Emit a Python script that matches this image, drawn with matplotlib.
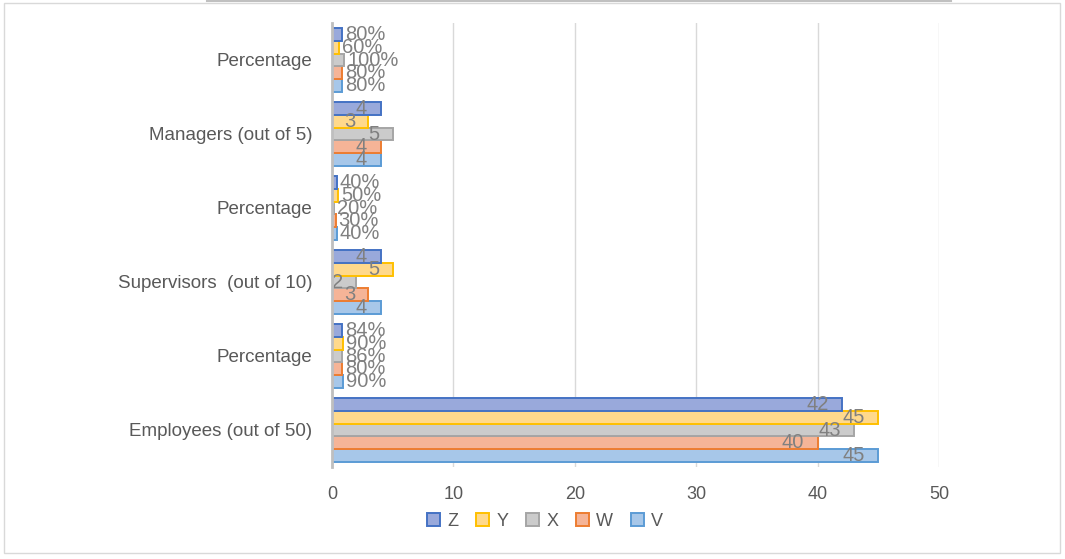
import numpy as np
import matplotlib
matplotlib.use('Agg')
from matplotlib import pyplot as plt
from matplotlib.patches import Rectangle
from matplotlib.lines import Line2D

# categories, bottom to top
categories = ['Employees (out of 50)', 'Percentage', 'Supervisors  (out of 10)',
              'Percentage', 'Managers (out of 5)', 'Percentage']
series = ['V', 'W', 'X', 'Y', 'Z']
values = {
    'V': [45, 0.90, 4, 0.40, 4, 0.80],
    'W': [40, 0.80, 3, 0.30, 4, 0.80],
    'X': [43, 0.86, 2, 0.20, 5, 1.00],
    'Y': [45, 0.90, 5, 0.50, 3, 0.60],
    'Z': [42, 0.84, 4, 0.40, 4, 0.80],
}
is_pct = [False, True, False, True, False, True]
xticks = [0, 10, 20, 30, 40, 50]

fills = {'V': '#a7c7e9', 'W': '#f5b497', 'X': '#cbcbcb', 'Y': '#ffd98c', 'Z': '#99a9db'}
edges = {'V': '#5b9bd5', 'W': '#ed7d31', 'X': '#a5a5a5', 'Y': '#ffc000', 'Z': '#4472c4'}

plt.rcParams['font.family'] = ['Liberation Sans', 'DejaVu Sans']

fig = plt.figure(figsize=(10.65, 5.59), dpi=100)
ax = fig.add_axes([332 / 1065, 1 - 467 / 559, (939 - 332) / 1065, (467 - 23) / 559])

y = np.arange(len(categories))
h = 0.173
for i, s in enumerate(series):
    off = (i - 2) * h
    ax.barh(y + off, values[s], height=h, color=fills[s], edgecolor=edges[s],
            linewidth=1.4, zorder=3)
    for j, v in enumerate(values[s]):
        if is_pct[j]:
            ax.text(v + 0.25, y[j] + off, '{:.0f}%'.format(v * 100), va='center',
                    ha='left', fontsize=14.5, color='#808080', zorder=4)
        else:
            ax.text(v - 1.1, y[j] + off, str(v), va='center', ha='right',
                    fontsize=14.5, color='#808080', zorder=4)

ax.set_xlim(0, 50)
ax.set_ylim(-0.5, len(categories) - 0.5)
ax.set_xticks(xticks)
ax.set_yticks(y)
ax.set_yticklabels(categories)
ax.tick_params(axis='y', length=0, colors='#595959', labelsize=13.5, pad=14)
ax.tick_params(axis='x', length=0, colors='#595959', labelsize=13, pad=14)
ax.grid(axis='x', color='#d9d9d9', linewidth=1, zorder=0)
for sp in ['top', 'right', 'bottom']:
    ax.spines[sp].set_visible(False)
ax.spines['left'].set_color('#bfbfbf')
ax.spines['left'].set_linewidth(2)
ax.spines['left'].set_zorder(5)

handles = [Rectangle((0, 0), 1, 1, facecolor=fills[s], edgecolor=edges[s], linewidth=1.4)
           for s in series[::-1]]
leg = fig.legend(handles, series[::-1], loc='center', bbox_to_anchor=(545 / 1065, 1 - 521 / 559),
                 ncol=5, frameon=False, fontsize=13, handlelength=0.75, handleheight=0.75,
                 handletextpad=0.4, columnspacing=0.95)
for t in leg.get_texts():
    t.set_color('#595959')

# chart area frame
fig.add_artist(Rectangle((4 / 1065, 1 - 553 / 559), 1056 / 1065, 550 / 559,
                         transform=fig.transFigure, fill=False, edgecolor='#d9d9d9', linewidth=1))
fig.add_artist(Line2D([207 / 1065, 951 / 1065], [1 - 0.8 / 559, 1 - 0.8 / 559],
                      transform=fig.transFigure, color='#c0c0c0', linewidth=1.5))

fig.savefig('out.png', dpi=100)
